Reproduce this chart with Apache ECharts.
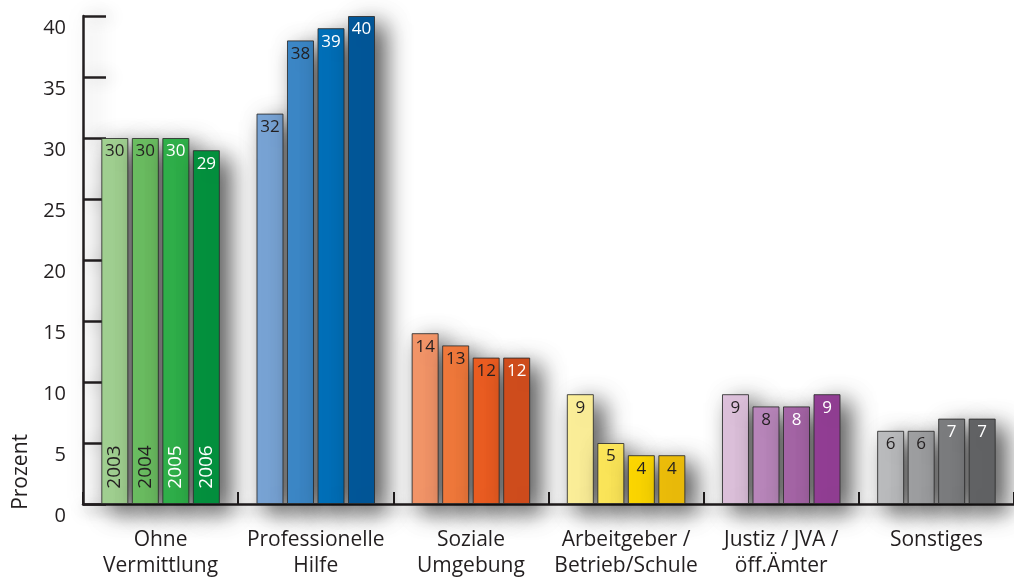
<!DOCTYPE html>
<html>
<head>
<meta charset="utf-8">
<script src="https://cdn.jsdelivr.net/npm/echarts@6/dist/echarts.min.js"></script>
<style>
  html, body { margin: 0; padding: 0; background: #ffffff; }
  #chart { width: 1014px; height: 579px; }
</style>
</head>
<body>
<div id="chart"></div>
<script>
// Vermittlungswege, Anteile in Prozent, 2003–2006
const categories = [
  'Ohne\nVermittlung',
  'Professionelle\nHilfe',
  'Soziale\nUmgebung',
  'Arbeitgeber /\nBetrieb/Schule',
  'Justiz / JVA /\nöff.Ämter',
  'Sonstiges'
];
const years = ['2003', '2004', '2005', '2006'];

const values2003 = [30, 32, 14, 9, 9, 6];
const values2004 = [30, 38, 13, 5, 8, 6];
const values2005 = [30, 39, 12, 4, 8, 7];
const values2006 = [29, 40, 12, 4, 9, 7];

const yTicks = [0, 5, 10, 15, 20, 25, 30, 35, 40];

// one colour ramp per category, light (2003) to dark (2006)
const rampOhne      = ['#a3d393', '#6cbf62', '#30b24b', '#04933f'];
const rampProf      = ['#7aa6d8', '#3d89c9', '#0071bb', '#02589b'];
const rampSozial    = ['#f6976a', '#f37a3c', '#ee5e22', '#d34e1d'];
const rampArbeit    = ['#fff29b', '#ffe95a', '#ffd900', '#efbf0a'];
const rampJustiz    = ['#e0c3de', '#bb88bd', '#a766a8', '#943f96'];
const rampSonstiges = ['#bdbec0', '#a0a1a3', '#7d7e80', '#636466'];
const ramps = [rampOhne, rampProf, rampSozial, rampArbeit, rampJustiz, rampSonstiges];

// value label ink per year and category
const ink2003 = ['#231f20', '#231f20', '#231f20', '#231f20', '#231f20', '#231f20'];
const ink2004 = ['#231f20', '#231f20', '#231f20', '#231f20', '#231f20', '#231f20'];
const ink2005 = ['#ffffff', '#ffffff', '#231f20', '#231f20', '#ffffff', '#ffffff'];
const ink2006 = ['#ffffff', '#ffffff', '#ffffff', '#231f20', '#ffffff', '#ffffff'];
const yearInk = ['#231f20', '#231f20', '#ffffff', '#ffffff'];

const seriesValues = [values2003, values2004, values2005, values2006];
const seriesInk = [ink2003, ink2004, ink2005, ink2006];

const textColor = '#231f20';
const fontFamily = '"Open Sans", "Noto Sans", sans-serif';

const series = years.map(function (year, s) {
  return {
    name: year,
    type: 'bar',
    clip: false,
    barWidth: 27,
    barGap: '13%',
    itemStyle: {
      borderColor: 'rgba(45,45,45,0.85)',
      borderWidth: 1,
      shadowColor: 'rgba(0,0,0,0.7)',
      shadowBlur: 24,
      shadowOffsetX: 10,
      shadowOffsetY: 8
    },
    label: {
      show: true,
      position: 'insideTop',
      distance: 5,
      fontSize: 17,
      fontFamily: fontFamily
    },
    data: seriesValues[s].map(function (v, c) {
      return {
        value: v,
        itemStyle: { color: ramps[c][s] },
        label: { color: seriesInk[s][c] }
      };
    }),
    // year caption written upright inside the first group's bars
    markPoint: {
      silent: true,
      symbol: 'circle',
      symbolSize: 1,
      itemStyle: { color: 'rgba(0,0,0,0)' },
      label: {
        show: true,
        formatter: year,
        rotate: 90,
        position: 'inside',
        offset: [37, 0],
        color: yearInk[s],
        fontSize: 19,
        fontFamily: fontFamily
      },
      data: [{ coord: [0, 0] }]
    }
  };
});

const chart = echarts.init(document.getElementById('chart'), null, { renderer: 'canvas' });
chart.setOption({
  backgroundColor: '#ffffff',
  animation: false,
  grid: { left: 83, top: 16, width: 942, height: 493, containLabel: false },
  xAxis: {
    type: 'category',
    data: categories,
    axisLine: {
      lineStyle: {
        color: textColor, width: 2.5,
        shadowColor: 'rgba(0,0,0,0.35)', shadowBlur: 14, shadowOffsetY: 6
      }
    },
    axisTick: {
      show: true, inside: true, length: 12,
      lineStyle: { color: textColor, width: 2 }
    },
    axisLabel: {
      color: textColor, fontSize: 21, lineHeight: 26, margin: 23,
      fontFamily: fontFamily, interval: 0
    },
    splitLine: { show: false }
  },
  yAxis: {
    type: 'value',
    min: 0,
    max: 40,
    interval: 5,
    axisLine: {
      show: true,
      lineStyle: {
        color: textColor, width: 2.5,
        shadowColor: 'rgba(0,0,0,0.35)', shadowBlur: 22, shadowOffsetX: 8
      }
    },
    axisTick: {
      show: true, inside: true, length: 23,
      lineStyle: {
        color: textColor, width: 2.5,
        shadowColor: 'rgba(0,0,0,0.3)', shadowBlur: 16, shadowOffsetX: 6
      }
    },
    axisLabel: {
      color: textColor, fontSize: 20, margin: 17, verticalAlign: 'top',
      padding: [2, 0, 0, 0],
      fontFamily: fontFamily,
      formatter: function (v) { return yTicks.indexOf(v) >= 0 ? String(v) : ''; }
    },
    splitLine: { show: false }
  },
  graphic: [{
    type: 'text',
    left: 11,
    top: 434,
    rotation: Math.PI / 2,
    style: {
      text: 'Prozent',
      fill: textColor,
      fontSize: 21,
      fontFamily: fontFamily
    }
  }],
  series: series
});
</script>
</body>
</html>
